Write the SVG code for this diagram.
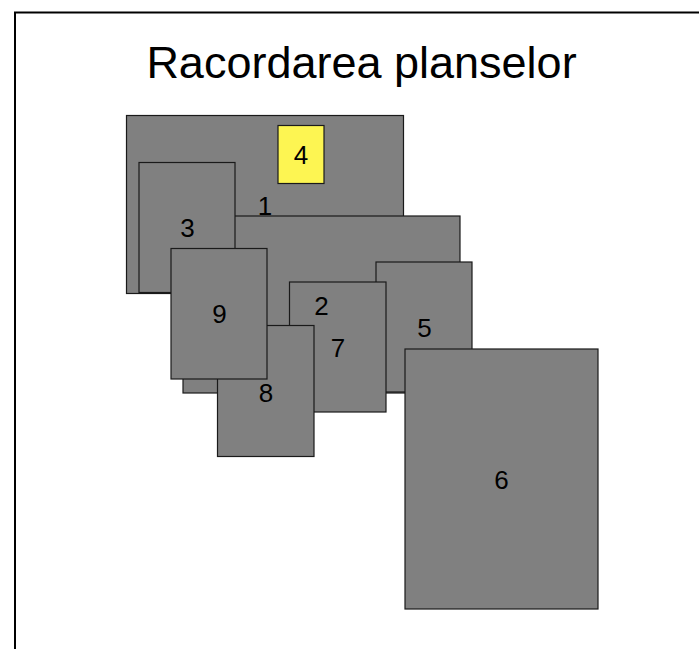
<svg xmlns="http://www.w3.org/2000/svg" width="699" height="649" viewBox="0 0 699 649">
<style>
.sheet{fill:#808080;stroke:#1a1a1a;stroke-width:1.2}
.hl{fill:#fdf552;stroke:#1a1a1a;stroke-width:1.2}
.lbl{font-family:"Liberation Sans",Arial,sans-serif;font-size:26px;fill:#000;text-anchor:middle}
.title{font-family:"Liberation Sans",Arial,sans-serif;font-size:45px;fill:#000;text-anchor:middle}
</style>
<rect x="0" y="0" width="699" height="649" fill="#fff"/>
<rect id="frame" x="15" y="12.5" width="700" height="660" fill="none" stroke="#000" stroke-width="2"/>
<text class="title" x="361.5" y="78">Racordarea planselor</text>
<g id="node1"><rect class="sheet" x="126.5" y="115.5" width="277" height="178"/></g>
<g id="node4"><rect class="hl" x="278" y="125.5" width="46" height="58"/></g>
<g id="node2"><rect class="sheet" x="183" y="216" width="277" height="177"/></g>
<g id="node3"><rect class="sheet" x="139" y="162.5" width="96" height="130"/></g>
<g id="node5"><rect class="sheet" x="376" y="262" width="96" height="130"/></g>
<g id="node7"><rect class="sheet" x="289.5" y="282" width="96.5" height="130"/></g>
<g id="node8"><rect class="sheet" x="217.5" y="325.5" width="96.5" height="131"/></g>
<g id="node9"><rect class="sheet" x="171" y="248.5" width="96" height="130.5"/></g>
<g id="node6"><rect class="sheet" x="405" y="349" width="193" height="260"/></g>
<g id="connectors"></g>
<g id="labels">
<text class="lbl" x="265" y="215">1</text>
<text class="lbl" x="321.5" y="314.5">2</text>
<text class="lbl" x="187.5" y="237">3</text>
<text class="lbl" x="301" y="164">4</text>
<text class="lbl" x="424.5" y="336.5">5</text>
<text class="lbl" x="501.5" y="489">6</text>
<text class="lbl" x="338" y="357">7</text>
<text class="lbl" x="266" y="401.5">8</text>
<text class="lbl" x="219.5" y="323">9</text>
</g>
</svg>
